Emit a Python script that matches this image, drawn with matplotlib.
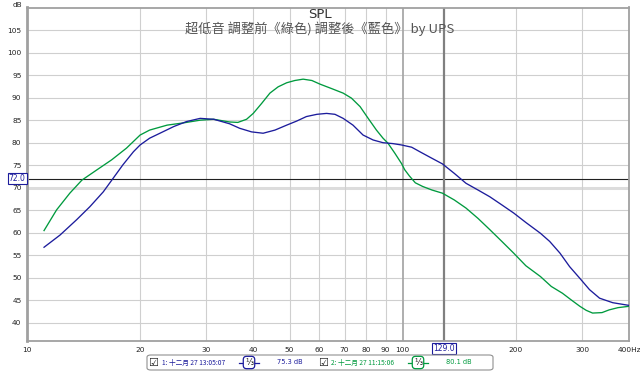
import numpy as np
import matplotlib
matplotlib.use('Agg')
import matplotlib.pyplot as plt
from matplotlib.patches import FancyBboxPatch

# ── Data ───────────────────────────────────────────────────
blue_f = [11.1, 12.24, 13.55, 14.7, 15.96, 16.95, 18.0, 19.2, 20.0, 21.2, 22.2,
          24.6, 26.6, 28.9, 31.4, 34.6, 36.8, 39.6, 42.5, 45.7, 49.1, 52.2,
          55.4, 59.1, 62.7, 66.0, 69.4, 73.7, 78.4, 83.4, 88.6, 94.1, 99.2,
          105.6, 111.0, 118.0, 127.5, 137.1, 147.3, 158.6, 170.5, 183.5, 197.3,
          212.6, 232.5, 246.0, 262.0, 278.0, 296.0, 314.0, 334.0, 362.0, 400.0]
blue_db = [56.8, 59.5, 62.9, 65.8, 69.1, 72.1, 75.1, 78.0, 79.5, 81.0, 81.8,
           83.6, 84.7, 85.4, 85.2, 84.2, 83.2, 82.4, 82.1, 82.8, 83.9, 84.8,
           85.8, 86.3, 86.5, 86.3, 85.4, 83.9, 81.7, 80.6, 80.0, 79.8, 79.5,
           79.0, 78.0, 76.8, 75.3, 73.2, 71.0, 69.5, 68.0, 66.2, 64.4,
           62.3, 59.9, 58.1, 55.5, 52.5, 49.9, 47.4, 45.5, 44.5, 43.9]

green_f = [11.1, 11.99, 13.0, 14.0, 15.3, 16.8, 18.4, 20.0, 21.2,
           23.6, 26.1, 28.9, 31.4, 34.6, 36.4, 38.4, 40.0, 42.1, 44.3, 46.6,
           49.1, 51.6, 54.3, 57.3, 60.2, 64.7, 69.4, 73.0, 77.0, 80.9, 85.1,
           88.6, 91.3, 95.2, 99.2, 101.2, 104.2, 108.0, 112.9, 119.6, 127.5,
           137.1, 147.3, 158.6, 170.5, 183.5, 197.3, 212.6, 232.5, 248.5,
           266.0, 280.9, 296.0, 307.8, 320.0, 339.0, 354.0, 373.9, 400.0]
green_db = [60.5, 65.1, 68.8, 71.7, 73.9, 76.2, 78.8, 81.7, 82.8,
            83.9, 84.4, 85.0, 85.2, 84.6, 84.5, 85.2, 86.5, 88.7, 91.0, 92.4,
            93.3, 93.8, 94.1, 93.8, 93.0, 92.0, 91.0, 89.9, 88.0, 85.4, 82.8,
            81.0, 79.9, 77.7, 75.4, 74.0, 72.6, 71.1, 70.3, 69.5, 68.8,
            67.3, 65.5, 63.2, 60.7, 58.1, 55.5, 52.7, 50.3, 48.1,
            46.6, 45.1, 43.7, 42.8, 42.2, 42.3, 42.9, 43.4, 43.7]

x_ticks = [10, 20, 30, 40, 50, 60, 70, 80, 90, 100, 200, 300, 400]
x_labels = ['10', '20', '30', '40', '50', '60', '70', '80', '90', '100',
            '200', '300', '400Hz']
y_ticks = list(range(40, 110, 5))
cursor_f = 129.0
cursor_db = 72.0

title = 'SPL'
subtitle = '超低音 調整前《綠色) 調整後《藍色》 by UPS'
legend_items = [('1: 十二月 27 13:05:07', '75.3 dB'),
                ('2: 十二月 27 11:15:06', '80.1 dB')]

# ── Colours ────────────────────────────────────────────────
BLUE = '#1c1c9c'
GREEN = '#009a3e'
GRID = '#cfcfcf'
FRAME = '#a0a0a0'
CJK = ['Noto Sans CJK TC', 'DejaVu Sans']

W, H = 640, 372
fig = plt.figure(figsize=(6.4, 3.72), dpi=100, facecolor='white')
ax = fig.add_axes([27 / W, 1 - 341 / H, 602 / W, (341 - 7.5) / H])
ax.set_xscale('log')
ax.set_xlim(10, 400)
ax.set_ylim(36, 110)

# grid
for y in y_ticks:
    if y == 70:
        ax.axhline(y, color='#dcdcdc', lw=2.2, zorder=1)
    else:
        ax.axhline(y, color=GRID, lw=0.8, zorder=1)
for x in x_ticks[1:-1]:
    if x == 100:
        ax.axvline(x, color='#a8a8a8', lw=1.3, zorder=1)
    else:
        ax.axvline(x, color=GRID, lw=0.8, zorder=1)

# cursors
ax.axhline(cursor_db, color='#202020', lw=0.8, zorder=2)
ax.axvline(cursor_f, color='#808080', lw=1.6, zorder=2)

# curves
ax.plot(green_f, green_db, color=GREEN, lw=0.95, zorder=3, solid_joinstyle='round')
ax.plot(blue_f, blue_db, color=BLUE, lw=0.95, zorder=4, solid_joinstyle='round')

# axes cosmetics
for s in ax.spines.values():
    s.set_color(FRAME)
    s.set_linewidth(1.3)
ax.spines['left'].set_linewidth(2.0)
ax.set_xticks(x_ticks)
ax.set_xticklabels(x_labels)
ax.set_xticks([], minor=True)
ax.set_yticks(y_ticks)
ax.tick_params(axis='both', length=0, labelsize=5.3, colors='#222222')
ax.tick_params(axis='x', pad=4)
ax.tick_params(axis='y', pad=4)

# cursor value boxes
ax.annotate(f'{cursor_db:.1f}', xy=(0, cursor_db), xycoords=('axes fraction', 'data'),
            xytext=(-1, 0), textcoords='offset points', ha='right', va='center',
            fontsize=5.5, color=BLUE, annotation_clip=False,
            bbox=dict(boxstyle='square,pad=0.15', fc='white', ec=BLUE, lw=0.8))
ax.annotate(f'{cursor_f:.1f}', xy=(cursor_f, 0), xycoords=('data', 'axes fraction'),
            xytext=(0, -2), textcoords='offset points', ha='center', va='top',
            fontsize=5.5, color=BLUE, annotation_clip=False,
            bbox=dict(boxstyle='square,pad=0.15', fc='white', ec=BLUE, lw=0.8))

fig.text(17 / W, 1 - 5 / H, 'dB', fontsize=5.3, ha='center', va='center', color='#222222')

# titles
fig.text(320 / W, 1 - 15 / H, title, fontsize=9.5, ha='center', va='center', color='#333333')
fig.text(320 / W, 1 - 29 / H, subtitle, fontsize=9.5, ha='center', va='center',
         color='#555555', family=CJK)

# legend strip below the plot
box = FancyBboxPatch((147 / W, 1 - 370 / H), (493 - 147) / W, 15 / H,
                     boxstyle='round,pad=0,rounding_size=0.006',
                     transform=fig.transFigure, fc='white', ec='#909090', lw=0.8)
fig.patches.append(box)
ly = 1 - 362.5 / H
rows = [(153, 162, 239, 277, BLUE), (323, 331, 408, 446, GREEN)]
for (label, val), (cx, tx, sx, vx, col) in zip(legend_items, rows):
    fig.text(cx / W, ly, '☑', fontsize=8, ha='center', va='center', color='#222222')
    fig.text(tx / W, ly, label, fontsize=4.8, ha='left', va='center', color=col, family=CJK)
    fig.add_artist(plt.Line2D([sx / W, (sx + 20) / W], [ly, ly], color=col, lw=0.9,
                              transform=fig.transFigure))
    fig.text((sx + 10) / W, ly, '⅓', fontsize=6, ha='center', va='center', color='#222222',
             bbox=dict(boxstyle='round,pad=0.2,rounding_size=0.4', fc='white', ec=col, lw=0.9))
    fig.text(vx / W, ly, val, fontsize=4.8, ha='left', va='center', color=col)

fig.savefig('out.png', dpi=100, facecolor='white')
